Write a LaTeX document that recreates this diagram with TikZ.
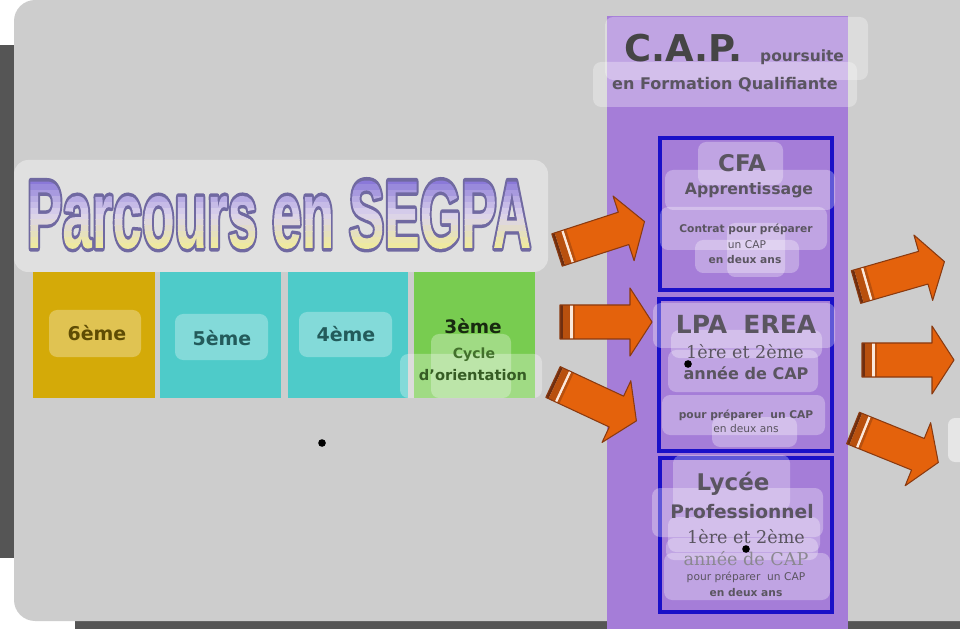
\documentclass[tikz,border=0pt]{standalone}
\usepackage{fontspec}
\usepackage{graphicx}
\setsansfont{DejaVu Sans}
\newfontfamily\titlefont{Liberation Sans}
\newfontfamily\serfont{DejaVu Serif}
\newcommand{\fsz}[1]{\fontsize{#1pt}{#1pt}\selectfont}
\definecolor{bggray}{HTML}{CDCDCD}
\definecolor{edgegray}{HTML}{555555}
\definecolor{gold6}{HTML}{D4AA08}
\definecolor{teal5}{HTML}{4ECBC9}
\definecolor{green3}{HTML}{78CC50}
\definecolor{purp}{HTML}{A57DD8}
\definecolor{bluebd}{HTML}{1A10C8}
\definecolor{labgray}{HTML}{5A5560}
\definecolor{capgray}{HTML}{454545}
\definecolor{orng}{HTML}{E4620C}
\definecolor{orline}{HTML}{8A3A10}
\definecolor{tail1}{HTML}{6E2E10}
\definecolor{tail2}{HTML}{B8500E}
\definecolor{toutl}{HTML}{7068A0}
\newcommand{\titlecore}{{\titlefont\bfseries\fsz{82.5}Parcours en SEGPA}}
\newcommand{\titlebands}{\special{pdf:content
0.540 0.470 0.850 rg -2000 54 2000 30 re f
0.600 0.540 0.862 rg -2000 49 2000 5.3 re f
0.660 0.605 0.875 rg -2000 44 2000 5.3 re f
0.720 0.675 0.890 rg -2000 39 2000 5.3 re f
0.775 0.735 0.905 rg -2000 34 2000 5.3 re f
0.830 0.796 0.919 rg -2000 29 2000 5.3 re f
0.861 0.831 0.904 rg -2000 24 2000 5.3 re f
0.875 0.846 0.863 rg -2000 19 2000 5.3 re f
0.888 0.860 0.800 rg -2000 14 2000 5.3 re f
0.900 0.880 0.740 rg -2000 9 2000 5.3 re f
0.920 0.900 0.680 rg -2000 4 2000 5.3 re f
0.935 0.915 0.630 rg -2000 -15 2000 19.3 re f}}
\begin{document}
\begin{tikzpicture}[x=0.03cm,y=-0.03cm,
  glass/.style={fill=white,fill opacity=0.3,rounded corners=7pt},
  lab/.style={inner sep=0pt,font=\sffamily\bfseries,text=labgray},
  bluebox/.style={draw=bluebd,line width=3.4pt},
  dotmark/.style={circle,fill=black,inner sep=0pt,minimum size=6.5pt},
  pics/barrow/.style={code={
    \fill[orng] (10,-17) -- (70,-17) -- (70,-34) -- (92,0) -- (70,34) -- (70,17) -- (10,17) -- cycle;
    \fill[tail1] (0,-17) rectangle (3,17);
    \fill[tail2] (3,-17) rectangle (10,17);
    \fill[white!85!orng] (10,-17) rectangle (12.5,17);
    \fill[tail2] (12.5,-17) rectangle (15,17);
    \draw[orline,line width=0.9pt,line join=round] (0,-17) -- (70,-17) -- (70,-34) -- (92,0) -- (70,34) -- (70,17) -- (0,17) -- cycle;
  }}]
\useasboundingbox (0,0) rectangle (960,629);
% frame
\fill[white] (0,0) rectangle (960,629);
\fill[edgegray] (0,45) rectangle (14,558);
\fill[edgegray] (75,621) rectangle (960,629);
\fill[bggray,rounded corners=18pt] (14,0) rectangle (1000,621);
% grade boxes
\fill[gold6] (33,272) rectangle (155,398);
\fill[teal5] (160,272) rectangle (281,398);
\fill[teal5] (288,272) rectangle (408,398);
\fill[green3] (414,272) rectangle (535,398);
% title band
\fill[white,fill opacity=0.38,rounded corners=12pt] (14,160) rectangle (548,272);
% title: text filled, stroked and used as clip for a vertical gradient
\node[inner sep=0pt,anchor=base,text=toutl] (title) at (279,248)
  {\scalebox{0.55}[1]{\special{pdf:literal direct 6 Tr 6 w 1 j 0.44 0.41 0.63 RG}\titlecore\titlebands}};
% grade labels
\fill[glass] (49,310) rectangle (141,357);
\fill[glass] (175,314) rectangle (268,360);
\fill[glass] (299,312) rectangle (392,357);
\node[lab,text=black!55!gold6,font=\sffamily\bfseries\fsz{16.2}] (g6) at (97,333) {6ème};
\node[lab,text=black!55!teal5,font=\sffamily\bfseries\fsz{16.2}] (g5) at (222,338) {5ème};
\node[lab,text=black!55!teal5,font=\sffamily\bfseries\fsz{16.2}] (g4) at (346,334) {4ème};
\node[lab,text=black!80!green3,font=\sffamily\bfseries\fsz{15.8}] (g3) at (473,326) {3ème};
\fill[glass] (431,334) rectangle (511,398);
\fill[glass] (400,354) rectangle (542,398);
\node[lab,text=black!45!green3,font=\sffamily\bfseries\fsz{12}] (cyc) at (474,355) {Cycle};
\node[lab,text=black!55!green3,font=\sffamily\bfseries\fsz{12.5}] (ori) at (473,375) {d'orientation};
% purple column
\fill[purp] (607,16) rectangle (848,629);
\fill[glass] (605,17) rectangle (868,80);
\fill[glass] (593,62) rectangle (857,107);
\node[lab,anchor=base west,text=capgray,font=\sffamily\bfseries\fsz{31.5}] (cap) at (624,62) {C.A.P.};
\node[lab,anchor=base west,font=\sffamily\bfseries\fsz{13.2}] (pours) at (760,62) {poursuite};
\node[lab,anchor=base west,font=\sffamily\bfseries\fsz{13.7}] (form) at (612,90) {en Formation Qualifiante};
% CFA
\draw[bluebox] (660,138) rectangle (832,290);
\fill[glass] (698,142) rectangle (783,185);
\fill[glass] (665,170) rectangle (835,210);
\fill[glass] (660,207) rectangle (827,250);
\fill[glass] (727,223) rectangle (785,277);
\fill[glass] (695,240) rectangle (799,273);
\node[lab,font=\sffamily\bfseries\fsz{19.6}] (cfa) at (742,163) {CFA};
\node[lab,font=\sffamily\bfseries\fsz{13.4}] (appr) at (749,190) {Apprentissage};
\node[lab,font=\sffamily\bfseries\fsz{9.1}] (contr) at (746,229) {Contrat pour préparer};
\node[lab,font=\sffamily\fsz{9.1}] (uncap1) at (747,245) {un CAP};
\node[lab,font=\sffamily\bfseries\fsz{9.1}] (deux1) at (745,260) {en deux ans};
% LPA EREA
\draw[bluebox] (659,299) rectangle (832,451);
\fill[glass] (653,303) rectangle (835,348);
\fill[glass] (671,330) rectangle (822,358);
\fill[glass] (668,350) rectangle (818,392);
\fill[glass] (662,395) rectangle (825,435);
\fill[glass] (712,417) rectangle (797,447);
\node[lab,font=\sffamily\bfseries\fsz{21.3}] (lpa) at (746,324) {LPA\hspace{14pt}EREA};
\node[lab,font=\serfont\fsz{15}] (an1) at (745,352) {1ère et 2ème};
\node[lab,font=\sffamily\bfseries\fsz{13.7}] (cap1) at (746,373) {année de CAP};
\node[lab,font=\sffamily\bfseries\fsz{9.1}] (prep2) at (746,415) {pour préparer\ \ un CAP};
\node[lab,font=\sffamily\fsz{9.1}] (deux2) at (746,429) {en deux ans};
% Lycee
\draw[bluebox] (660,458) rectangle (832,612);
\fill[glass] (673,455) rectangle (790,510);
\fill[glass] (652,488) rectangle (823,537);
\fill[glass] (668,517) rectangle (820,552);
\fill[glass] (666,538) rectangle (818,560);
\fill[glass] (664,553) rectangle (830,600);
\node[lab,font=\sffamily\bfseries\fsz{19.6}] (lyc) at (733,484) {Lycée};
\node[lab,font=\sffamily\bfseries\fsz{15.9}] (pro) at (742,512) {Professionnel};
\node[lab,font=\serfont\fsz{15}] (an2) at (746,537) {1ère et 2ème};
\node[lab,text=labgray!70,font=\serfont\fsz{15}] (cap2) at (746,559) {année de CAP};
\node[lab,font=\sffamily\fsz{9.1}] (prep3) at (746,577) {pour préparer\ \ un CAP};
\node[lab,font=\sffamily\bfseries\fsz{9.1}] (deux3) at (746,593) {en deux ans};
% right partial box
\fill[white,fill opacity=0.5,rounded corners=6pt] (948,418) rectangle (990,462);
% arrows
\pic[rotate=18] at (557,250) {barrow};
\pic at (560,322) {barrow};
\pic[rotate=-25] at (553,382) {barrow};
\pic[rotate=16] at (856,287) {barrow};
\pic at (862,360) {barrow};
\pic[rotate=-22] at (853,428) {barrow};
% dots
\node[dotmark] (d1) at (322,443) {};
\node[dotmark] (d2) at (688,364) {};
\node[dotmark] (d3) at (746,549) {};
\end{tikzpicture}
\end{document}
